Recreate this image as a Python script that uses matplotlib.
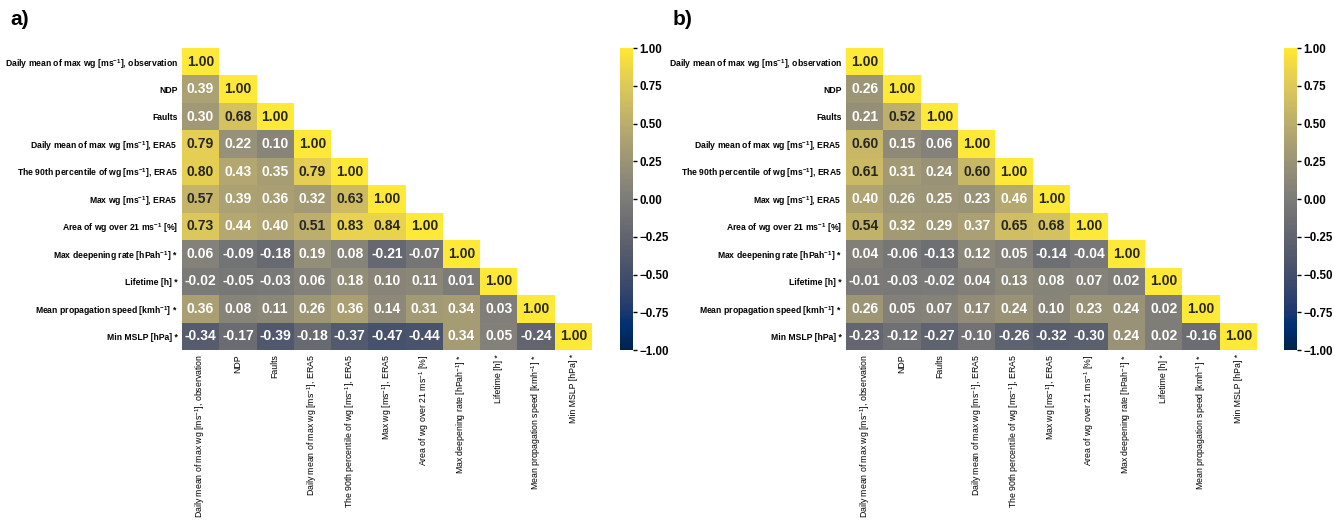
import numpy as np
import matplotlib
matplotlib.use("Agg")
import matplotlib.pyplot as plt
import matplotlib.colors as mcolors

plt.rcParams['font.family'] = ['Liberation Sans', 'DejaVu Sans']
plt.rcParams['mathtext.default'] = 'regular'

labels = [
    r'Daily mean of max wg [ms$^{-1}$], observation',
    'NDP',
    'Faults',
    r'Daily mean of max wg [ms$^{-1}$], ERA5',
    r'The 90th percentile of wg [ms$^{-1}$], ERA5',
    r'Max wg [ms$^{-1}$], ERA5',
    r'Area of wg over 21 ms$^{-1}$ [%]',
    r'Max deepening rate [hPah$^{-1}$] *',
    'Lifetime [h] *',
    r'Mean propagation speed [kmh$^{-1}$] *',
    'Min MSLP [hPa] *',
]

# lower triangle rows (diagonal = 1.00 added below)
corr_a = [
    [],
    [0.39],
    [0.30, 0.68],
    [0.79, 0.22, 0.10],
    [0.80, 0.43, 0.35, 0.79],
    [0.57, 0.39, 0.36, 0.32, 0.63],
    [0.73, 0.44, 0.40, 0.51, 0.83, 0.84],
    [0.06, -0.09, -0.18, 0.19, 0.08, -0.21, -0.07],
    [-0.02, -0.05, -0.03, 0.06, 0.18, 0.10, 0.11, 0.01],
    [0.36, 0.08, 0.11, 0.26, 0.36, 0.14, 0.31, 0.34, 0.03],
    [-0.34, -0.17, -0.39, -0.18, -0.37, -0.47, -0.44, 0.34, 0.05, -0.24],
]

corr_b = [
    [],
    [0.26],
    [0.21, 0.52],
    [0.60, 0.15, 0.06],
    [0.61, 0.31, 0.24, 0.60],
    [0.40, 0.26, 0.25, 0.23, 0.46],
    [0.54, 0.32, 0.29, 0.37, 0.65, 0.68],
    [0.04, -0.06, -0.13, 0.12, 0.05, -0.14, -0.04],
    [-0.01, -0.03, -0.02, 0.04, 0.13, 0.08, 0.07, 0.02],
    [0.26, 0.05, 0.07, 0.17, 0.24, 0.10, 0.23, 0.24, 0.02],
    [-0.23, -0.12, -0.27, -0.10, -0.26, -0.32, -0.30, 0.24, 0.02, -0.16],
]


def to_matrix(rows):
    n = len(rows)
    m = np.full((n, n), np.nan)
    for i, r in enumerate(rows):
        for j, v in enumerate(r):
            m[i, j] = v
        m[i, i] = 1.0
    return m


def luminance(c):
    rgb = np.array(c[:3])
    rgb = np.where(rgb <= .03928, rgb / 12.92, ((rgb + .055) / 1.055) ** 2.4)
    return rgb.dot([.2126, .7152, .0722])


cmap = plt.get_cmap('cividis').copy()
cmap.set_bad((1, 1, 1, 0))
norm = mcolors.Normalize(vmin=-1, vmax=1)

fig = plt.figure(figsize=(13.34, 5.25), dpi=100)

panels = [
    (corr_a, 'a)', [0.1364, 0.3333, 0.3074, 0.5752], [0.4648, 0.3333, 0.0098, 0.5752], 0.0075),
    (corr_b, 'b)', [0.6342, 0.3333, 0.3081, 0.5752], [0.9625, 0.3333, 0.0098, 0.5752], 0.5040),
]

for rows, tag, pos, cpos, tx in panels:
    data = to_matrix(rows)
    n = data.shape[0]
    ax = fig.add_axes(pos)
    mesh = ax.pcolormesh(np.arange(n + 1), np.arange(n + 1), np.ma.masked_invalid(data),
                         cmap=cmap, norm=norm)
    ax.set_xlim(0, n)
    ax.set_ylim(n, 0)
    for i in range(n):
        for j in range(i + 1):
            v = data[i, j]
            col = '.15' if luminance(cmap(norm(v))) > .408 else 'w'
            ax.text(j + 0.5, i + 0.5, f'{v:.2f}', ha='center', va='center',
                    fontsize=10, fontweight='bold', color=col)
    ax.set_xticks(np.arange(n) + 0.5)
    ax.set_yticks(np.arange(n) + 0.5)
    ax.set_xticklabels(labels, rotation=90, fontsize=6.3)
    ax.set_yticklabels(labels, fontsize=6.2, fontweight='bold')
    ax.tick_params(length=0, pad=3)
    for s in ax.spines.values():
        s.set_visible(False)

    cax = fig.add_axes(cpos)
    cb = fig.colorbar(mesh, cax=cax, ticks=[-1, -0.75, -0.5, -0.25, 0, 0.25, 0.5, 0.75, 1])
    cb.outline.set_visible(False)
    cb.ax.set_yticklabels([f'{t:.2f}'.replace('-', '\u2212') for t in cb.get_ticks()],
                          fontsize=8.3, fontweight='bold')
    cb.ax.tick_params(length=3, width=1, pad=1.5)

    fig.text(tx, 0.962, tag, fontsize=15, fontweight='bold', ha='left', va='center')

fig.savefig('out.png', dpi=100)
